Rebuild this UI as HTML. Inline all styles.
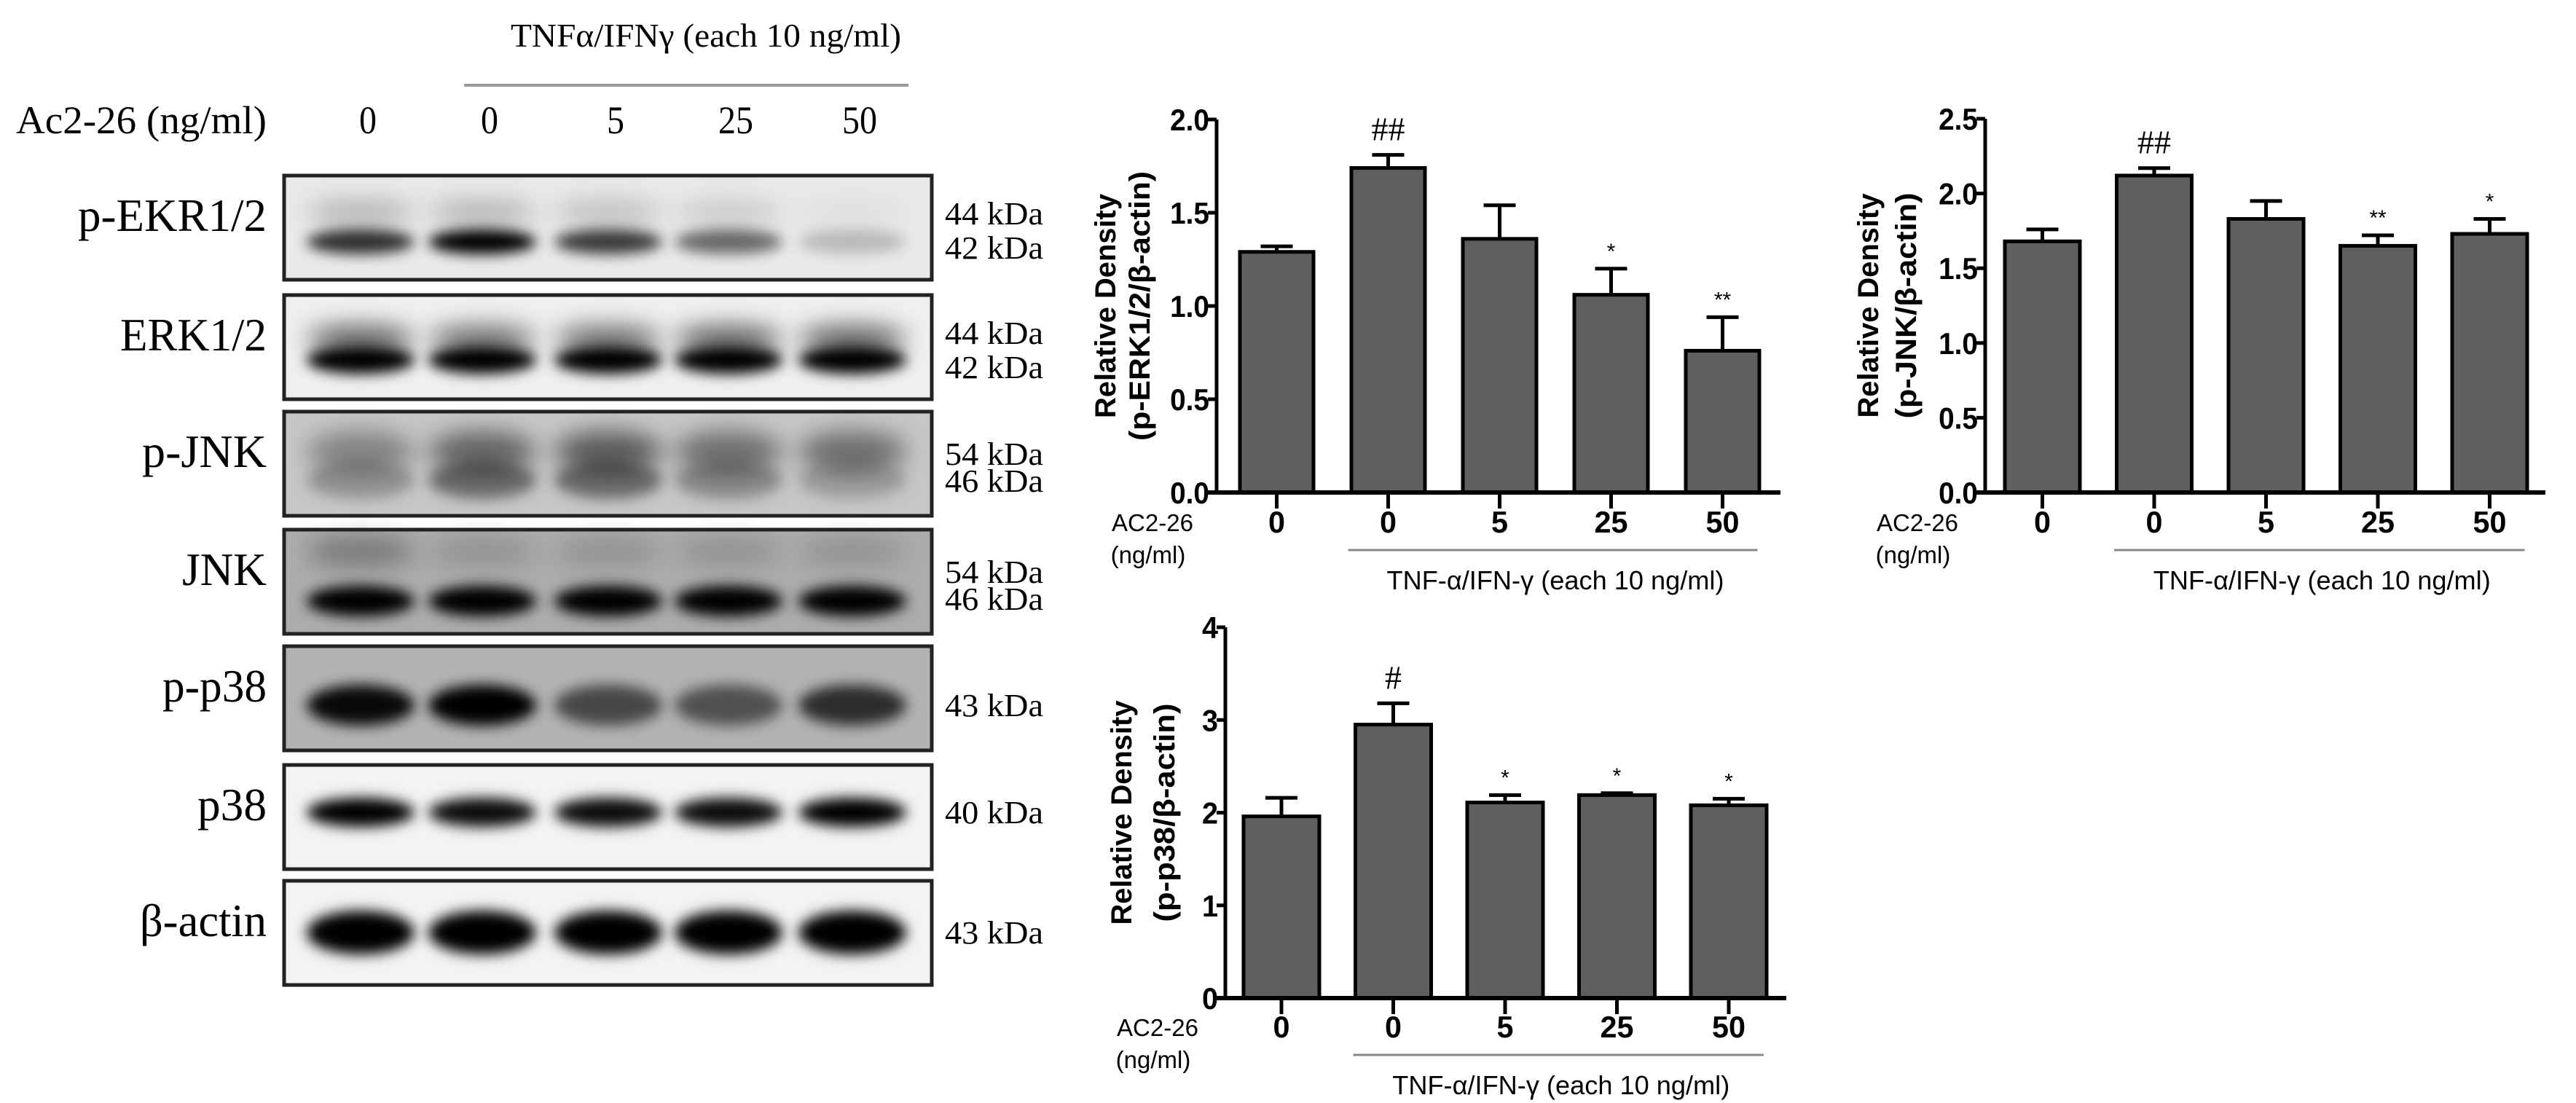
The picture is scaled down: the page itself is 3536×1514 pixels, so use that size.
<!DOCTYPE html>
<html><head><meta charset="utf-8">
<style>
html,body{margin:0;padding:0;background:#fff;}
svg{display:block;}
.serif{font-family:"Liberation Serif",serif;}
.sans{font-family:"Liberation Sans",sans-serif;}
</style></head>
<body>
<svg id="fig" width="3536" height="1514" viewBox="0 0 3536 1514" xmlns="http://www.w3.org/2000/svg">
<defs>
<filter id="blur" x="-50%" y="-100%" width="200%" height="300%"><feGaussianBlur stdDeviation="9"/></filter>
<filter id="blur2" x="-50%" y="-100%" width="200%" height="300%"><feGaussianBlur stdDeviation="16"/></filter>
</defs>
<g id="blot">
<text class="serif" x="701" y="64" font-size="46" textLength="536" lengthAdjust="spacingAndGlyphs">TNFα/IFNγ (each 10 ng/ml)</text>
<line x1="637" y1="117" x2="1247" y2="117" stroke="#999" stroke-width="4"/>
<text class="serif" x="22" y="183" font-size="54" textLength="344" lengthAdjust="spacingAndGlyphs">Ac2-26 (ng/ml)</text>
</g>
<g id="charts"></g>
</svg>
<script>
// ---- blot data ----
const laneLabels = ["0","0","5","25","50"];
const blotNames = ["p-EKR1/2","ERK1/2","p-JNK","JNK","p-p38","p38","β-actin"];
const blotKda = [["44 kDa","42 kDa"],["44 kDa","42 kDa"],["54 kDa","46 kDa"],["54 kDa","46 kDa"],["43 kDa"],["40 kDa"],["43 kDa"]];
const blotBg = ["#e9e9e9","#efefef","#c6c6c6","#acacac","#b2b2b2","#f3f3f3","#f3f3f3"];
// band intensities (upper band, lower band) per lane
const bandUpper = [[0.25,0.25,0.2,0.15,0.05],[0.6,0.55,0.55,0.6,0.6],[0.35,0.5,0.55,0.45,0.45],[0.3,0.15,0.15,0.15,0.15],[0,0,0,0,0],[0,0,0,0,0],[0,0,0,0,0]];
const bandLower = [[0.8,1,0.75,0.55,0.2],[1,1,1,1,1],[0.25,0.45,0.45,0.3,0.2],[1,1,1,1,1],[0.95,1,0.6,0.55,0.75],[1,0.95,0.95,0.95,1],[1,1,1,1,1]];

// ---- chart data ----
const categories = ["0","0","5","25","50"];
const erkValues = [1.29,1.74,1.36,1.06,0.76];
const erkErrTop = [1.32,1.81,1.54,1.20,0.94];
const erkMarks = ["","##","","*","**"];
const erkTicks = ["0.0","0.5","1.0","1.5","2.0"];
const jnkValues = [1.68,2.12,1.83,1.65,1.73];
const jnkErrTop = [1.76,2.17,1.95,1.72,1.83];
const jnkMarks = ["","##","","**","*"];
const jnkTicks = ["0.0","0.5","1.0","1.5","2.0","2.5"];
const p38Values = [1.96,2.95,2.11,2.19,2.08];
const p38ErrTop = [2.16,3.18,2.19,2.21,2.15];
const p38Marks = ["","#","*","*","*"];
const p38Ticks = ["0","1","2","3","4"];

const NS="http://www.w3.org/2000/svg";
const svg=document.getElementById('fig');
function mk(tag,attrs,parent){const e=document.createElementNS(NS,tag);for(const k in attrs)e.setAttribute(k,attrs[k]);(parent||svg).appendChild(e);return e;}
function numLen(t,w){let s=0;for(const c of t)s+=(c==='.'?w*0.45:w);return s;}

// blot
const blotG=document.getElementById('blot');
const laneX=[495,662,835,1000,1170];
laneLabels.forEach((t,i)=>{
  const e=mk('text',{x:laneX[i]+10,y:183,'font-size':54,'text-anchor':'middle',class:'serif',textLength:t.length*24,lengthAdjust:'spacingAndGlyphs'},blotG);
  
  
  e.textContent=t;
});
const rowTop=[241,405,565,727,887,1050,1209];
const rowH=143;
const upperOff=[50,60,55,30,0,0,0];
const lowerOff=[91,89,94,98,81,65,71];
const bandH=[22,26,40,30,44,28,48];
const labelW=[259,201,171,116,143,95,174];
blotNames.forEach((n,r)=>{
  const g=mk('g',{},blotG);
  
  
  const y0=rowTop[r];
  const bg=mk('rect',{x:390,y:y0,width:889,height:rowH,fill:blotBg[r]},g);
  
  
  laneX.forEach((x,i)=>{
    if(bandUpper[r][i]>0){
      const b=mk('ellipse',{cx:x,cy:y0+upperOff[r],rx:74,ry:bandH[r]*0.7,fill:'#000','fill-opacity':bandUpper[r][i],filter:'url(#blur2)'},g);
      
      
    }
    const b2=mk('ellipse',{cx:x,cy:y0+lowerOff[r],rx:74,ry:bandH[r]/2+6,fill:'#000','fill-opacity':bandLower[r][i],filter:'url(#blur)'},g);
    
    
  });
  const fr=mk('rect',{x:390,y:y0,width:889,height:rowH,fill:'none',stroke:'#222','stroke-width':5},g);
  
  
  const lb=mk('text',{x:366,y:y0+76,'font-size':64,'text-anchor':'end',class:'serif',textLength:labelW[r],lengthAdjust:'spacingAndGlyphs'},g);
  
  
  lb.textContent=n;
  const k=blotKda[r];
  if(k.length===2){
    const ys = r<2?[y0+67,y0+114]:[y0+73,y0+110];
    k.forEach((t,j)=>{const e=mk('text',{x:1297,y:ys[j],'font-size':44,class:'serif',textLength:135,lengthAdjust:'spacingAndGlyphs'},g);
      
      
      e.textContent=t;});
  } else {
    const e=mk('text',{x:1297,y:y0+lowerOff[r]+15,'font-size':44,class:'serif',textLength:135,lengthAdjust:'spacingAndGlyphs'},g);
    
    
    e.textContent=k[0];
  }
});

// charts
function chart(o){
  const g=mk('g',{},document.getElementById('charts'));
  
  
  const maxV=parseFloat(o.ticks[o.ticks.length-1]);
  const yS=v=>o.y0-(o.y0-o.yTop)*v/maxV;
  const xC=i=>o.x1+o.pitch*i+o.bw/2;
  o.values.forEach((v,i)=>{
    const et=mk('line',{x1:xC(i),x2:xC(i),y1:yS(v),y2:yS(o.err[i]),stroke:'#000','stroke-width':5},g);
    
    
    const cap=mk('line',{x1:xC(i)-22,x2:xC(i)+22,y1:yS(o.err[i]),y2:yS(o.err[i]),stroke:'#000','stroke-width':5},g);
    
    
    const b=mk('rect',{x:o.x1+o.pitch*i,y:yS(v),width:o.bw,height:o.y0-yS(v),fill:'#5f5f5f',stroke:'#000','stroke-width':5},g);
    
    
    if(o.marks[i]){
      const big=o.marks[i].indexOf('#')>=0;
      const m=mk('text',{x:xC(i),y:yS(o.err[i])-(big?20:14),'font-size':big?46:30,'text-anchor':'middle',class:big?'serif':'sans'},g);
      
      
      m.textContent=o.marks[i];
    }
    const tk=mk('line',{x1:xC(i),x2:xC(i),y1:o.y0,y2:o.y0+22,stroke:'#000','stroke-width':5},g);
    
    
    const cl=mk('text',{x:xC(i),y:o.catY+2,'font-size':42,'font-weight':'bold','text-anchor':'middle',class:'sans',textLength:numLen(o.cats[i],23),lengthAdjust:'spacingAndGlyphs'},g);
    
    
    cl.textContent=o.cats[i];
  });
  const ya=mk('line',{x1:o.ax,x2:o.ax,y1:o.yTop,y2:o.y0+2,stroke:'#000','stroke-width':5},g);
  
  
  const xa=mk('line',{x1:o.ax-12,x2:o.axEnd,y1:o.y0,y2:o.y0,stroke:'#000','stroke-width':6},g);
  
  
  o.ticks.forEach(t=>{
    const y=yS(parseFloat(t));
    const l=mk('line',{x1:o.ax-12,x2:o.ax,y1:y,y2:y,stroke:'#000','stroke-width':5},g);
    
    
    const tx=mk('text',{x:o.ax-10,y:y+15,'font-size':42,'font-weight':'bold','text-anchor':'end',class:'sans',textLength:numLen(t,22),lengthAdjust:'spacingAndGlyphs'},g);
    
    
    tx.textContent=t;
  });
  const yc=(o.yTop+o.y0)/2;
  const t1=mk('text',{x:o.yl1,y:yc,'font-size':40,'font-weight':'bold','text-anchor':'middle',transform:`rotate(-90 ${o.yl1} ${yc})`,class:'sans',textLength:308,lengthAdjust:'spacingAndGlyphs'},g);
  
  
  t1.textContent='Relative Density';
  const t2=mk('text',{x:o.yl2,y:yc,'font-size':40,'font-weight':'bold','text-anchor':'middle',transform:`rotate(-90 ${o.yl2} ${yc})`,class:'sans',textLength:o.y2len,lengthAdjust:'spacingAndGlyphs'},g);
  
  
  t2.textContent=o.ytitle;
  const a=mk('text',{x:o.acX,y:o.catY,'font-size':33,'text-anchor':'middle',class:'sans'},g);
  
  
  a.textContent='AC2-26';
  const a2=mk('text',{x:o.acX-6,y:o.catY+44,'font-size':33,'text-anchor':'middle',class:'sans'},g);
  
  
  a2.textContent='(ng/ml)';
  const br=mk('line',{x1:xC(1)-55,x2:xC(4)+48,y1:o.catY+26,y2:o.catY+26,stroke:'#888','stroke-width':3},g);
  
  
  const tn=mk('text',{x:(xC(1)+xC(4))/2,y:o.catY+80,'font-size':36,'text-anchor':'middle',textLength:463,lengthAdjust:'spacingAndGlyphs',class:'sans'},g);
  
  
  tn.textContent='TNF-α/IFN-γ (each 10 ng/ml)';
}
chart({name:'erk-chart',values:erkValues,err:erkErrTop,marks:erkMarks,ticks:erkTicks,cats:categories,
  ax:1670,axEnd:2444,x1:1702,pitch:153,bw:101,y0:676,yTop:164,catY:729,yl1:1531,yl2:1578,acX:1582,y2len:370,ytitle:'(p-ERK1/2/β-actin)'});
chart({name:'jnk-chart',values:jnkValues,err:jnkErrTop,marks:jnkMarks,ticks:jnkTicks,cats:categories,
  ax:2725,axEnd:3494,x1:2752,pitch:153.5,bw:103,y0:676,yTop:163,catY:729,yl1:2578,yl2:2630,acX:2632,y2len:310,ytitle:'(p-JNK/β-actin)'});
chart({name:'p38-chart',values:p38Values,err:p38ErrTop,marks:p38Marks,ticks:p38Ticks,cats:categories,
  ax:1682,axEnd:2452,x1:1707,pitch:153.5,bw:104,y0:1370,yTop:861,catY:1422,yl1:1553,yl2:1612,acX:1589,y2len:300,ytitle:'(p-p38/β-actin)'});
</script>
</body></html>
